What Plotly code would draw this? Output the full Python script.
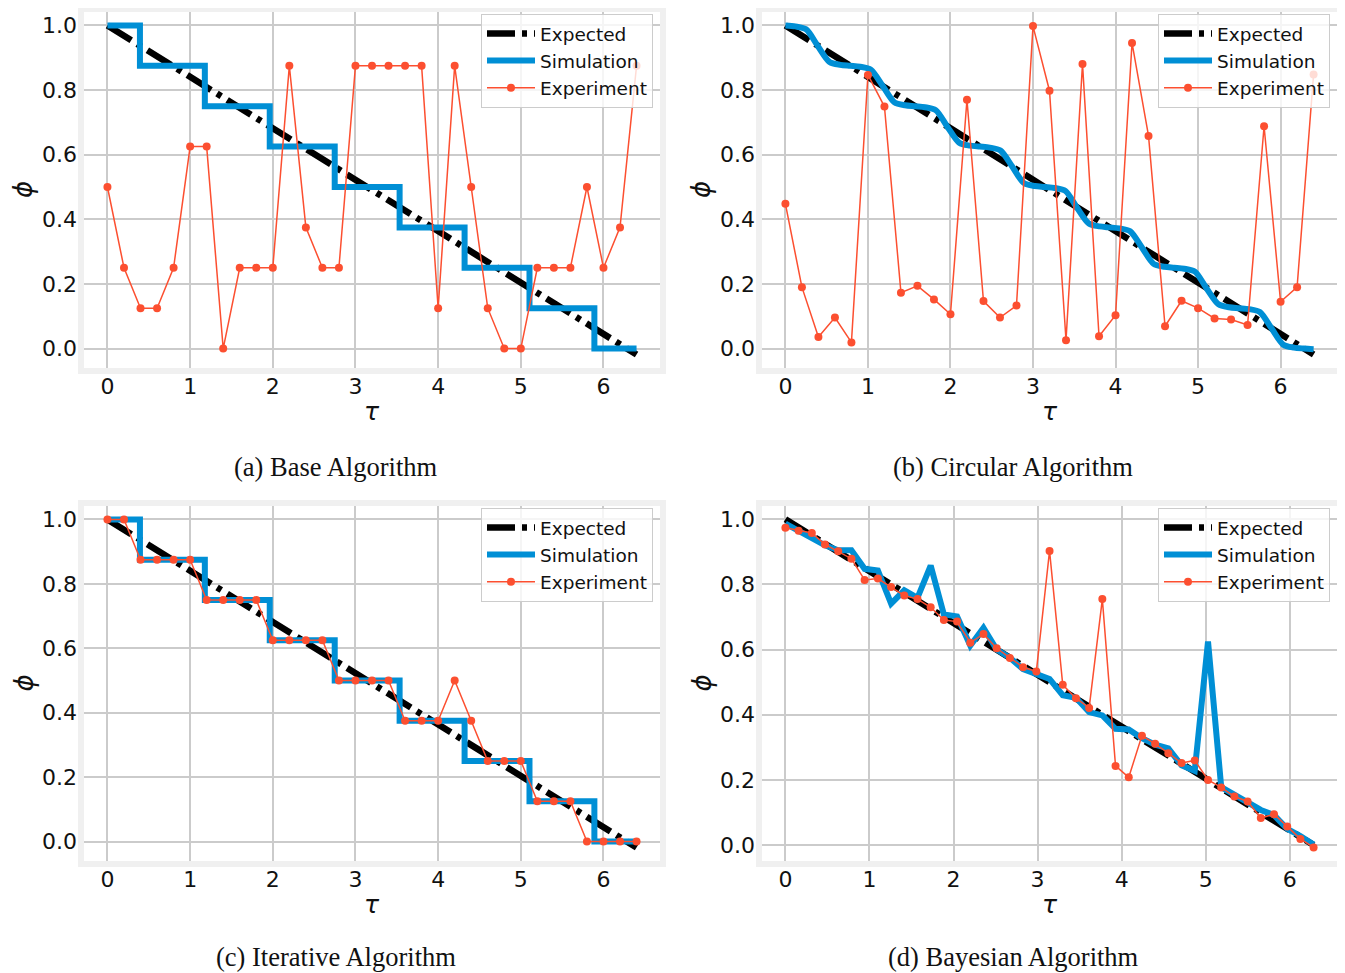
import plotly.graph_objects as go

W, H = 1345, 973
OFF = 8                       # page body margin of the html page
FW, FH = W - OFF, H - OFF     # figure size so the page fits the window


def px(x):
    return (x - OFF) / FW


def py(y):
    return 1 - (y - OFF) / FH


# ---------------- data ----------------
tau_33 = [0.0, 0.2, 0.4, 0.6, 0.8, 1.0, 1.2, 1.4, 1.6, 1.8, 2.0, 2.2, 2.4, 2.6, 2.8, 3.0,
          3.2, 3.4, 3.6, 3.8, 4.0, 4.2, 4.4, 4.6, 4.8, 5.0, 5.2, 5.4, 5.6, 5.8, 6.0, 6.2, 6.4]

expected_tau = [0.0, 6.4]
expected_phi = [1.0, -0.0186]

# step simulation (base & iterative)
step_tau = [0.0, 0.393, 1.178, 1.963, 2.749, 3.534, 4.320, 5.105, 5.890, 6.4]
step_phi = [1.0, 0.875, 0.75, 0.625, 0.5, 0.375, 0.25, 0.125, 0.0, 0.0]

base_exp = [0.5, 0.25, 0.125, 0.125, 0.25, 0.625, 0.625, 0.0, 0.25, 0.25, 0.25, 0.875, 0.375,
            0.25, 0.25, 0.875, 0.875, 0.875, 0.875, 0.875, 0.125, 0.875, 0.5, 0.125, 0.0, 0.0,
            0.25, 0.25, 0.25, 0.5, 0.25, 0.375, 0.875]

circ_sim_tau = [0.0, 0.12, 0.25, 0.39,
                0.535, 0.665, 0.785, 0.905, 1.035, 1.18,
                1.321, 1.451, 1.571, 1.691, 1.821, 1.96,
                2.106, 2.236, 2.356, 2.476, 2.606, 2.75,
                2.892, 3.022, 3.142, 3.262, 3.392, 3.53,
                3.677, 3.807, 3.927, 4.047, 4.177, 4.32,
                4.462, 4.592, 4.712, 4.832, 4.962, 5.10,
                5.248, 5.378, 5.498, 5.618, 5.748, 5.89,
                6.033, 6.163, 6.283, 6.4]
circ_sim_phi = [1.0, 0.997, 0.988, 0.9375,
                0.887, 0.878, 0.875, 0.872, 0.863, 0.8125,
                0.762, 0.753, 0.75, 0.747, 0.738, 0.6875,
                0.637, 0.628, 0.625, 0.622, 0.613, 0.5625,
                0.512, 0.503, 0.5, 0.497, 0.488, 0.4375,
                0.387, 0.378, 0.375, 0.372, 0.363, 0.3125,
                0.262, 0.253, 0.25, 0.247, 0.238, 0.1875,
                0.137, 0.128, 0.125, 0.122, 0.113, 0.0625,
                0.012, 0.003, 0.0, -0.002]
circ_exp = [0.448, 0.19, 0.036, 0.096, 0.019, 0.847, 0.749, 0.173, 0.194, 0.152, 0.106, 0.77,
            0.147, 0.096, 0.133, 0.998, 0.798, 0.026, 0.881, 0.038, 0.103, 0.946, 0.658, 0.069,
            0.148, 0.125, 0.093, 0.09, 0.073, 0.688, 0.145, 0.19, 0.848]

iter_exp = [1.0, 1.0, 0.875, 0.875, 0.875, 0.875, 0.75, 0.75, 0.75, 0.75, 0.625, 0.625, 0.625,
            0.625, 0.5, 0.5, 0.5, 0.5, 0.375, 0.375, 0.375, 0.5, 0.375, 0.25, 0.25, 0.25, 0.125,
            0.125, 0.125, 0.0, 0.0, 0.0, 0.0]

bayes_tau = [0.0, 0.157, 0.314, 0.471, 0.628, 0.785, 0.942, 1.100, 1.257, 1.414, 1.571, 1.728,
             1.885, 2.042, 2.199, 2.356, 2.513, 2.670, 2.827, 2.985, 3.142, 3.299, 3.456, 3.613,
             3.770, 3.927, 4.084, 4.241, 4.398, 4.555, 4.712, 4.869, 5.027, 5.184, 5.341, 5.498,
             5.655, 5.812, 5.969, 6.126, 6.283]
bayes_expected_tau = [0.0, 6.283]
bayes_expected_phi = [1.0, 0.0]
bayes_sim = [0.987, 0.965, 0.945, 0.920, 0.905, 0.905, 0.848, 0.843, 0.741, 0.782, 0.759, 0.858,
             0.708, 0.702, 0.612, 0.667, 0.600, 0.575, 0.540, 0.525, 0.510, 0.460, 0.452, 0.408,
             0.398, 0.357, 0.355, 0.328, 0.308, 0.297, 0.245, 0.228, 0.625, 0.178, 0.155, 0.128,
             0.108, 0.092, 0.050, 0.028, 0.002]
bayes_exp = [0.974, 0.965, 0.958, 0.923, 0.902, 0.879, 0.814, 0.818, 0.792, 0.766, 0.755, 0.730,
             0.691, 0.686, 0.621, 0.648, 0.604, 0.574, 0.546, 0.533, 0.903, 0.492, 0.451, 0.421,
             0.755, 0.243, 0.208, 0.336, 0.311, 0.282, 0.252, 0.260, 0.200, 0.177, 0.149, 0.134,
             0.083, 0.095, 0.057, 0.019, -0.007]

x_ticks = [0, 1, 2, 3, 4, 5, 6]
y_ticks = [0.0, 0.2, 0.4, 0.6, 0.8, 1.0]
captions = ["(a) Base Algorithm", "(b) Circular Algorithm",
            "(c) Iterative Algorithm", "(d) Bayesian Algorithm"]
series_names = ["Expected", "Simulation", "Experiment"]

# ---------------- styles ----------------
BLACK = "#000000"
BLUE = "#008fd5"
RED = "#fc4f30"
GRID = "#cbcbcb"
FRAME = "#f0f0f0"
TICKFONT = dict(family="DejaVu Sans", size=22, color="#111111")

# panel geometry (pixels in the reference): x0, x1, y0(top), y1(bottom)
boxes = [(81, 663, 9, 371), (759, 1340, 9, 371), (81, 663, 503, 864), (759, 1340, 503, 864)]
caption_pos = [(336, 467), (1013, 467), (336, 957), (1013, 957)]
xranges = [[-0.32, 6.72]] * 3 + [[-0.3142, 6.597]]
yranges = [[-0.0695, 1.0509]] * 3 + [[-0.058, 1.050]]

panels = [
    (expected_tau, expected_phi, step_tau, step_phi, "hv", tau_33, base_exp),
    (expected_tau, expected_phi, circ_sim_tau, circ_sim_phi, "spline", tau_33, circ_exp),
    (expected_tau, expected_phi, step_tau, step_phi, "hv", tau_33, iter_exp),
    (bayes_expected_tau, bayes_expected_phi, bayes_tau, bayes_sim, "linear", bayes_tau, bayes_exp),
]

fig = go.Figure()
layout = dict(width=FW, height=FH, margin=dict(l=0, r=0, t=0, b=0),
              paper_bgcolor="white", plot_bgcolor="white", showlegend=True)
annotations = []
shapes = []

for i, (etx, ety, stx, sty, shape, xtx, xty) in enumerate(panels):
    n = "" if i == 0 else str(i + 1)
    xa, ya = "x" + n, "y" + n
    leg = "legend" + n
    fig.add_trace(go.Scatter(x=etx, y=ety, mode="lines", name=series_names[0],
                             line=dict(color=BLACK, width=6.5, dash="28px,7px,5px,7px"),
                             xaxis=xa, yaxis=ya, legend=leg))
    line_sim = dict(color=BLUE, width=6, shape=shape)
    if shape == "spline":
        line_sim["smoothing"] = 0.8
    fig.add_trace(go.Scatter(x=stx, y=sty, mode="lines", name=series_names[1],
                             line=line_sim, xaxis=xa, yaxis=ya, legend=leg))
    fig.add_trace(go.Scatter(x=xtx, y=xty, mode="lines+markers", name=series_names[2],
                             line=dict(color=RED, width=1.5), marker=dict(color=RED, size=8),
                             xaxis=xa, yaxis=ya, legend=leg))
    x0, x1, y0, y1 = boxes[i]
    layout["xaxis" + n] = dict(domain=[px(x0), px(x1)], range=xranges[i], anchor=ya,
                               tickvals=x_ticks, ticks="", showgrid=True, gridcolor=GRID,
                               gridwidth=1.5, zeroline=False, showline=False,
                               tickfont=TICKFONT, ticklabelstandoff=0)
    layout["yaxis" + n] = dict(domain=[py(y1), py(y0)], range=yranges[i], anchor=xa,
                               tickvals=y_ticks, tickformat=".1f", ticks="", showgrid=True,
                               gridcolor=GRID, gridwidth=1.5, zeroline=False, showline=False,
                               tickfont=TICKFONT, ticklabelstandoff=3)
    layout[leg] = dict(x=px(x1 - 10), y=py(y0 + 5), xanchor="right", yanchor="top",
                       bgcolor="rgba(255,255,255,0.8)", bordercolor="#cccccc", borderwidth=1,
                       font=dict(family="DejaVu Sans", size=18.5, color="#111111"),
                       tracegroupgap=0, itemwidth=48)
    shapes.append(dict(type="rect", xref=xa + " domain", yref=ya + " domain",
                       x0=0, x1=1, y0=0, y1=1, line=dict(color=FRAME, width=6), layer="above"))
    cx = (x0 + x1) / 2
    annotations.append(dict(text="<i>τ</i>", x=px(cx), y=py(y1 + 40), xref="paper",
                            yref="paper", showarrow=False, xanchor="center", yanchor="middle",
                            font=dict(family="DejaVu Sans", size=25, color="#111111")))
    annotations.append(dict(text="<i>ϕ</i>", x=px(x0 - 58), y=py((y0 + y1) / 2),
                            xref="paper", yref="paper", showarrow=False, textangle=-90,
                            xanchor="center", yanchor="middle",
                            font=dict(family="DejaVu Sans", size=26, color="#111111")))
    capx, capy = caption_pos[i]
    annotations.append(dict(text=captions[i], x=px(capx), y=py(capy), xref="paper",
                            yref="paper", showarrow=False, xanchor="center", yanchor="middle",
                            font=dict(family="Liberation Serif", size=26.5, color="#111111")))

layout["annotations"] = annotations
layout["shapes"] = shapes
fig.update_layout(**layout)
fig.write_html("out.html")
